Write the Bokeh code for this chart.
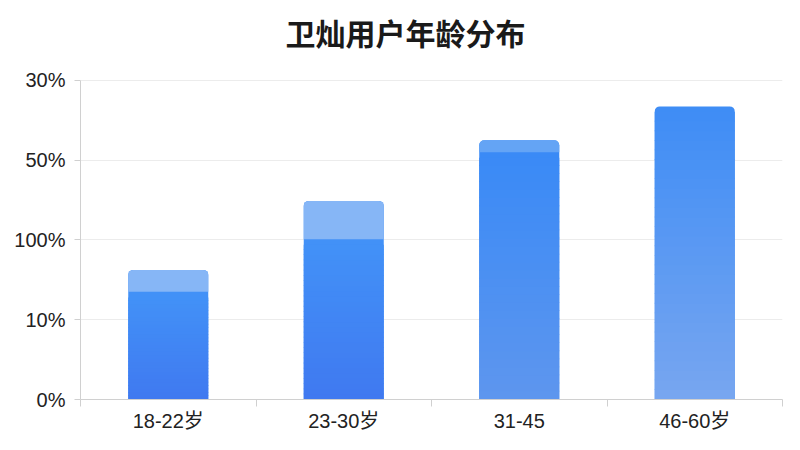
from bokeh.plotting import figure
from bokeh.models import Range1d, FixedTicker, Label
from bokeh.embed import file_html
from bokeh.resources import INLINE

# ---- data ----
categories = ["18-22岁", "23-30岁", "31-45", "46-60岁"]
y_tick_labels = ["0%", "10%", "100%", "50%", "30%"]
values_main = [1.35, 2.01, 3.10, 3.675]   # darker (gradient) part, in axis-slot units
values_total = [1.625, 2.49, 3.25, 3.675]  # bar top incl. light cap
title = "卫灿用户年龄分布"

# ---- style ----
grad_top = [(66, 145, 247), (66, 145, 247), (58, 138, 246), (63, 141, 245)]
grad_bot = [(64, 121, 240), (64, 121, 240), (94, 150, 238), (120, 166, 240)]
cap_colors = ["#86b6f6", "#86b6f6", "#64a4f5", "#3f8df5"]
CJK = "Noto Sans CJK SC"
LAB = "'Liberation Sans', 'Noto Sans CJK SC'"
BAR_W = 0.456
N = 30
Y_TOP = len(y_tick_labels) - 1
HEADROOM = 0.94      # extra frame space above the top grid line (holds the title)
TITLE_Y = Y_TOP + 0.61

def hexc(c):
    return "#%02x%02x%02x" % tuple(int(round(v)) for v in c)

p = figure(width=784, height=434, output_backend="svg", toolbar_location=None,
           x_range=Range1d(0, len(categories)), y_range=Range1d(0, Y_TOP + HEADROOM),
           min_border_left=80, min_border_right=2, min_border_bottom=34, min_border_top=5)
p.outline_line_color = None
p.background_fill_color = "white"

p.add_layout(Label(x=len(categories) / 2, y=TITLE_Y, x_offset=-26, text=title,
                   text_align="center", text_baseline="middle",
                   text_font=CJK, text_font_size="30px", text_font_style="bold",
                   text_color="#1a1a1a"))

xs = [i + 0.5 for i in range(len(categories))]

# full bar (rounded top) in top colour
p.vbar(x=xs, top=values_total, bottom=0, width=BAR_W,
       fill_color=[hexc(c) for c in grad_top], line_color=None,
       border_radius=(5, 5, 0, 0))
# light cap
p.vbar(x=xs, top=values_total, bottom=values_main, width=BAR_W,
       fill_color=cap_colors, line_color=None, border_radius=(5, 5, 0, 0))

# vertical gradient slices for the main part
gx, gb, gt, gc = [], [], [], []
for i, x in enumerate(xs):
    h = values_main[i] - 0.07
    for k in range(N):
        f0 = k / N
        f1 = (k + 1) / N
        gx.append(x)
        gb.append(h * f0)
        gt.append(min(h * f1 + 0.01, h))
        fm = (f0 + f1) / 2
        c = tuple(grad_bot[i][j] + (grad_top[i][j] - grad_bot[i][j]) * fm for j in range(3))
        gc.append(hexc(c))
p.vbar(x=gx, bottom=gb, top=gt, width=BAR_W, fill_color=gc, line_color=None)

# axes
xa = p.xaxis[0]
xa.ticker = FixedTicker(ticks=xs, minor_ticks=list(range(len(categories) + 1)))
xa.major_label_overrides = {x: c for x, c in zip(xs, categories)}
xa.major_tick_out = 0
xa.major_tick_in = 0
xa.minor_tick_out = 7
xa.minor_tick_in = 0
xa.minor_tick_line_color = "#d0d0d0"
xa.axis_line_color = "#d0d0d0"
xa.major_label_text_font = LAB
xa.major_label_text_font_size = "20px"
xa.major_label_text_color = "#222222"
xa.major_label_standoff = 3

ya = p.yaxis[0]
ya.ticker = FixedTicker(ticks=list(range(len(y_tick_labels))))
ya.bounds = (0, Y_TOP)
ya.major_label_overrides = {i: t for i, t in enumerate(y_tick_labels)}
ya.major_tick_out = 6
ya.major_tick_in = 0
ya.minor_tick_out = 0
ya.minor_tick_in = 0
ya.major_tick_line_color = "#d0d0d0"
ya.axis_line_color = "#d0d0d0"
ya.major_label_text_font = LAB
ya.major_label_text_font_size = "20px"
ya.major_label_text_color = "#222222"
ya.major_label_standoff = 9

p.xgrid.grid_line_color = None
p.ygrid.grid_line_color = "#ececec"
p.ygrid.ticker = FixedTicker(ticks=list(range(len(y_tick_labels))))

open("out.html", "w").write(file_html(p, INLINE))
